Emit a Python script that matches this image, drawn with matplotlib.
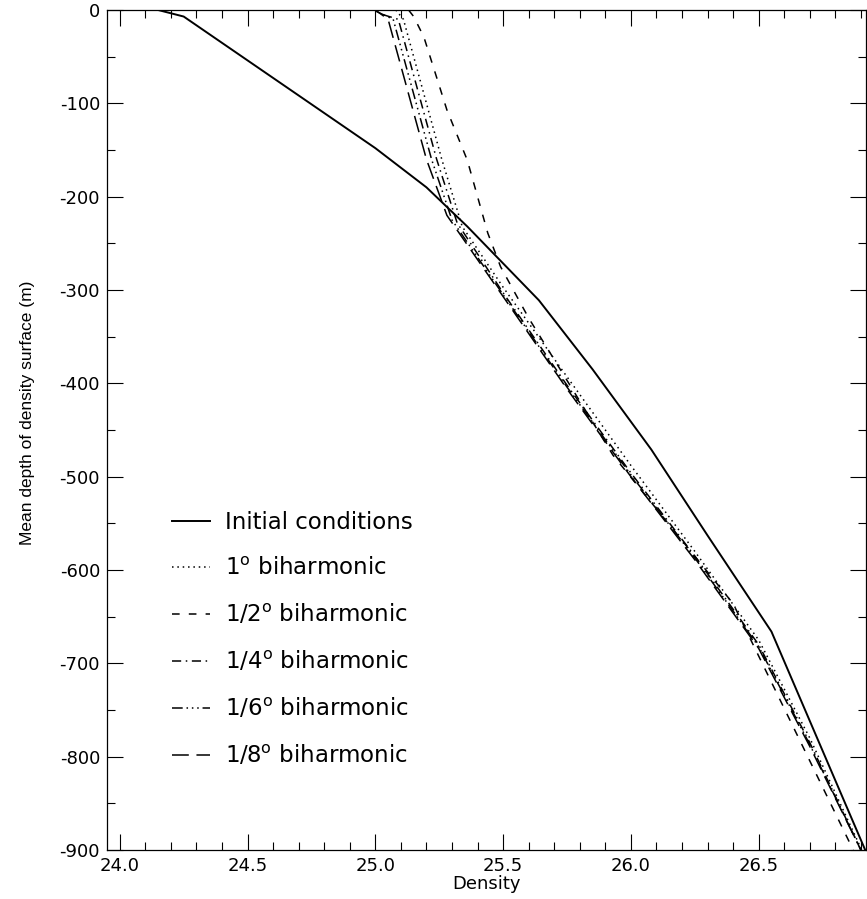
import matplotlib
matplotlib.use("Agg")
import matplotlib.pyplot as plt
from matplotlib.ticker import MultipleLocator, FormatStrFormatter

# the scanned original is stretched sideways, so the wide DejaVu face is used
# for horizontal text and the narrower Liberation face for the rotated label
plt.rcParams["font.family"] = ["DejaVu Sans"]
plt.rcParams["mathtext.fontset"] = "dejavusans"
plt.rcParams["axes.unicode_minus"] = False

# ---------------------------------------------------------------------------
# Data
# ---------------------------------------------------------------------------
init_rho = [24.15, 24.25, 24.5, 24.75, 25.0, 25.2, 25.36, 25.64, 25.85, 26.08, 26.3, 26.55, 26.92]
init_z = [0, -7, -54, -101, -148, -190, -232, -311, -385, -471, -563, -666, -902]

deg1_rho = [25.08, 25.11, 25.18, 25.26, 25.34, 25.5, 25.75, 26.0, 26.25, 26.5, 26.7, 26.9]
deg1_z = [0, -10, -80, -160, -232, -297, -393, -488, -580, -675, -780, -898]

deg2_rho = [25.13, 25.15, 25.19, 25.28, 25.36, 25.44, 25.49, 25.6, 25.93, 26.4, 26.66, 26.87]
deg2_z = [0, -7, -29, -107, -161, -239, -275, -330, -477, -636, -782, -900]

deg4_rho = [25.03, 25.09, 25.16, 25.24, 25.32, 25.5, 25.75, 26.0, 26.25, 26.5, 26.7, 26.9]
deg4_z = [-5, -10, -80, -160, -228, -303, -402, -496, -585, -680, -785, -900]

deg6_rho = [25.0, 25.07, 25.14, 25.22, 25.3, 25.5, 25.75, 26.0, 26.25, 26.5, 26.7, 26.9]
deg6_z = [-1, -10, -80, -160, -225, -305, -404, -498, -587, -682, -787, -900]

deg8_rho = [24.88, 25.0, 25.05, 25.12, 25.2, 25.28, 25.5, 25.75, 26.0, 26.25, 26.5, 26.7, 26.9]
deg8_z = [0, 0, -10, -80, -160, -220, -307, -406, -500, -589, -684, -789, -900]

labels = [
    "Initial conditions",
    r"1$^\mathrm{o}$ biharmonic",
    r"1/2$^\mathrm{o}$ biharmonic",
    r"1/4$^\mathrm{o}$ biharmonic",
    r"1/6$^\mathrm{o}$ biharmonic",
    r"1/8$^\mathrm{o}$ biharmonic",
]

# ---------------------------------------------------------------------------
# Plot
# ---------------------------------------------------------------------------
fig = plt.figure(figsize=(8.67, 8.99), dpi=100)
ax = fig.add_axes([107 / 867, 49 / 899, 759 / 867, 840 / 899])

lw = 1.1
ax.plot(init_rho, init_z, color="black", lw=1.4, ls="-", label=labels[0])
ax.plot(deg1_rho, deg1_z, color="black", lw=lw, ls=(0, (1, 2.5)), label=labels[1])
ax.plot(deg2_rho, deg2_z, color="black", lw=lw, ls=(0, (5, 6)), label=labels[2])
ax.plot(deg4_rho, deg4_z, color="black", lw=lw, ls=(0, (6, 3, 1, 3)), label=labels[3])
ax.plot(deg6_rho, deg6_z, color="black", lw=lw, ls=(0, (7, 2.5, 1, 2.5, 1, 2.5, 1, 2.5)), label=labels[4])
ax.plot(deg8_rho, deg8_z, color="black", lw=lw, ls=(0, (11, 5)), label=labels[5])

ax.set_xlim(23.95, 26.92)
ax.set_ylim(-900, 0)
ax.xaxis.set_major_locator(MultipleLocator(0.5))
ax.xaxis.set_minor_locator(MultipleLocator(0.1))
ax.yaxis.set_major_locator(MultipleLocator(100))
ax.yaxis.set_minor_locator(MultipleLocator(50))
ax.xaxis.set_major_formatter(FormatStrFormatter("%.1f"))

ax.tick_params(which="both", direction="in", top=True, right=True, labelsize=13, width=0.8)
ax.tick_params(which="major", length=11.5, pad=5)
ax.tick_params(which="minor", length=5.5)
for s in ax.spines.values():
    s.set_linewidth(0.9)

ax.set_xlabel("Density", fontsize=13, labelpad=0)
ax.set_ylabel("Mean depth of density surface (m)", fontsize=12.5, family="Liberation Sans")
ax.yaxis.set_label_coords(-0.095, 0.52)

ax.legend(loc="upper left", bbox_to_anchor=(0.074, 0.414), frameon=False, fontsize=16.5,
          handlelength=1.66, handletextpad=0.65, labelspacing=0.99, borderaxespad=0)

fig.savefig("out.png", dpi=100)
